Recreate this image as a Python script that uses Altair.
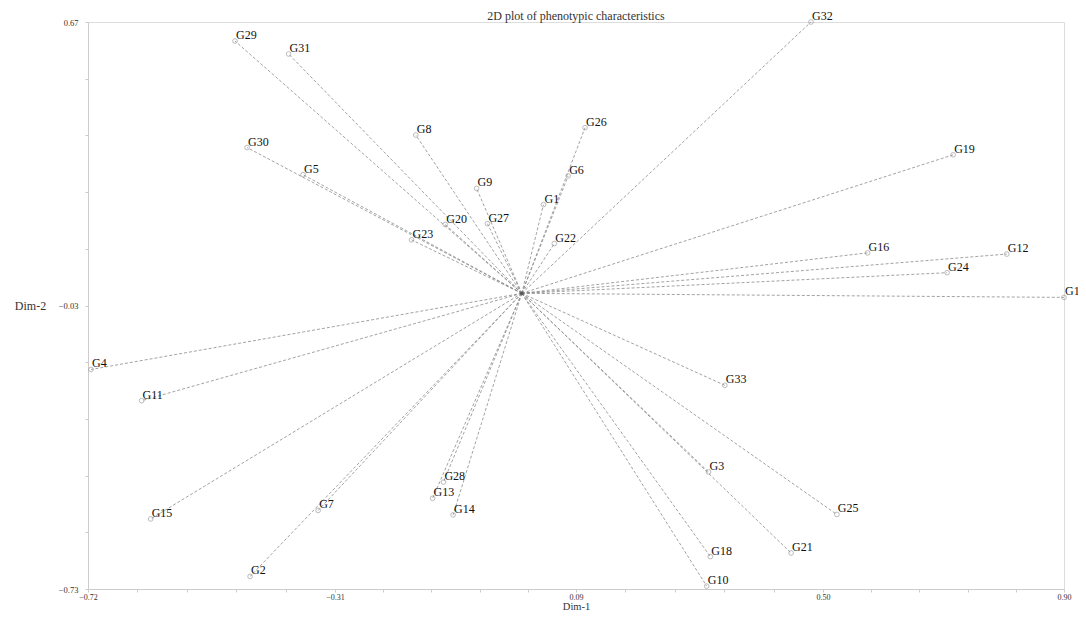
import altair as alt
import pandas as pd
import numpy as np

names = ["G1", "G2", "G3", "G4", "G5", "G6", "G7", "G8", "G9", "G10", "G11",
         "G12", "G13", "G14", "G15", "G16", "G17", "G18", "G19", "G20", "G21",
         "G22", "G23", "G24", "G25", "G26", "G27", "G28", "G29", "G30", "G31",
         "G32", "G33"]
dim1 = [0.036, -0.451, 0.310, -0.715, -0.363, 0.077, -0.338, -0.176, -0.075, 0.307, -0.631,
        0.805, -0.148, -0.114, -0.616, 0.574, 0.900, 0.313, 0.716, -0.127, 0.447,
        0.054, -0.183, 0.706, 0.523, 0.105, -0.057, -0.130, -0.476, -0.456, -0.387,
        0.480, 0.337]
dim2 = [0.219, -0.699, -0.441, -0.188, 0.293, 0.290, -0.536, 0.391, 0.259, -0.723, -0.265,
        0.097, -0.506, -0.547, -0.557, 0.100, -0.010, -0.650, 0.342, 0.170, -0.641,
        0.123, 0.132, 0.051, -0.546, 0.409, 0.172, -0.466, 0.623, 0.360, 0.591,
        0.670, -0.227]

x_major = [-0.72, -0.31, 0.09, 0.50, 0.90]
y_major = [-0.73, -0.38, -0.03, 0.32, 0.67]


def with_minor(major, n=5):
    vals = []
    for a, b in zip(major[:-1], major[1:]):
        for k in range(n):
            vals.append(a if k == 0 else round(a + (b - a) * k / n, 4))
    vals.append(major[-1])
    return vals


x_ticks = with_minor(x_major)
y_ticks = with_minor(y_major)

df = pd.DataFrame({"name": names, "x": dim1, "y": dim2})
df["ox"] = 0.0
df["oy"] = 0.0
origin = pd.DataFrame({"x": [0.0], "y": [0.0]})

serif = "Liberation Serif"


def lab_expr(major):
    arr = ",".join(repr(v) for v in major)
    return f"indexof([{arr}], datum.value) >= 0 ? format(datum.value, '.2f') : ''"


xscale = alt.Scale(domain=[x_major[0], x_major[-1]], nice=False, zero=False)
yscale = alt.Scale(domain=[y_major[0], y_major[-1]], nice=False, zero=False)

xaxis = alt.Axis(values=x_ticks, labelExpr=lab_expr(x_major), title="Dim-1",
                 grid=False, tickSize=3, tickColor="#cccccc", domainColor="#cccccc",
                 labelFont=serif, labelFontSize=8, labelColor="#333333", labelPadding=1,
                 titleFont=serif, titleFontSize=10.5, titleFontWeight="normal",
                 titleColor="#333333", titleBaseline="alphabetic", titleY=20,
                 labelFlush=False)
yaxis = alt.Axis(values=y_ticks, labelExpr=lab_expr(y_major), title="Dim-2",
                 grid=False, tickSize=3, tickColor="#cccccc", domainColor="#cccccc",
                 labelFont=serif, labelFontSize=8.5, labelColor="#333333", labelPadding=7,
                 titleFont=serif, titleFontSize=12, titleFontWeight="normal",
                 titleColor="#333333", titleAngle=0, titleAlign="center",
                 titleBaseline="middle", titleX=-58, titleY=283, labelFlush=False)

lines = alt.Chart(df).mark_rule(strokeDash=[3, 2], color="#8a8a8a", strokeWidth=0.8).encode(
    x=alt.X("ox:Q", scale=xscale, axis=xaxis),
    y=alt.Y("oy:Q", scale=yscale, axis=yaxis),
    x2="x:Q",
    y2="y:Q",
)

points = alt.Chart(df).mark_point(shape="circle", size=22, color="#888888",
                                  strokeWidth=0.8, filled=False, clip=False).encode(
    x=alt.X("x:Q", scale=xscale),
    y=alt.Y("y:Q", scale=yscale),
)

labels = alt.Chart(df).mark_text(align="left", baseline="bottom", dx=1, dy=1,
                                 font=serif, fontSize=12, color="#111111",
                                 clip=False).encode(
    x=alt.X("x:Q", scale=xscale),
    y=alt.Y("y:Q", scale=yscale),
    text="name:N",
)

center = alt.Chart(origin).mark_point(shape="circle", size=14, filled=True,
                                      color="#444444").encode(
    x=alt.X("x:Q", scale=xscale),
    y=alt.Y("y:Q", scale=yscale),
)

chart = alt.layer(lines, points, center, labels).properties(
    width=976,
    height=567,
    title=alt.TitleParams("2D plot of phenotypic characteristics", font=serif,
                          fontSize=12, fontWeight="normal", color="#333333",
                          anchor="middle", offset=3, frame="group", dy=16),
    autosize=alt.AutoSizeParams(type="none"),
    padding={"left": 80, "top": 14, "right": 14, "bottom": 22},
).configure_view(stroke="#cccccc", strokeWidth=1).configure(background="white")

chart.save("out.html", embed_options={"renderer": "svg", "actions": False})
